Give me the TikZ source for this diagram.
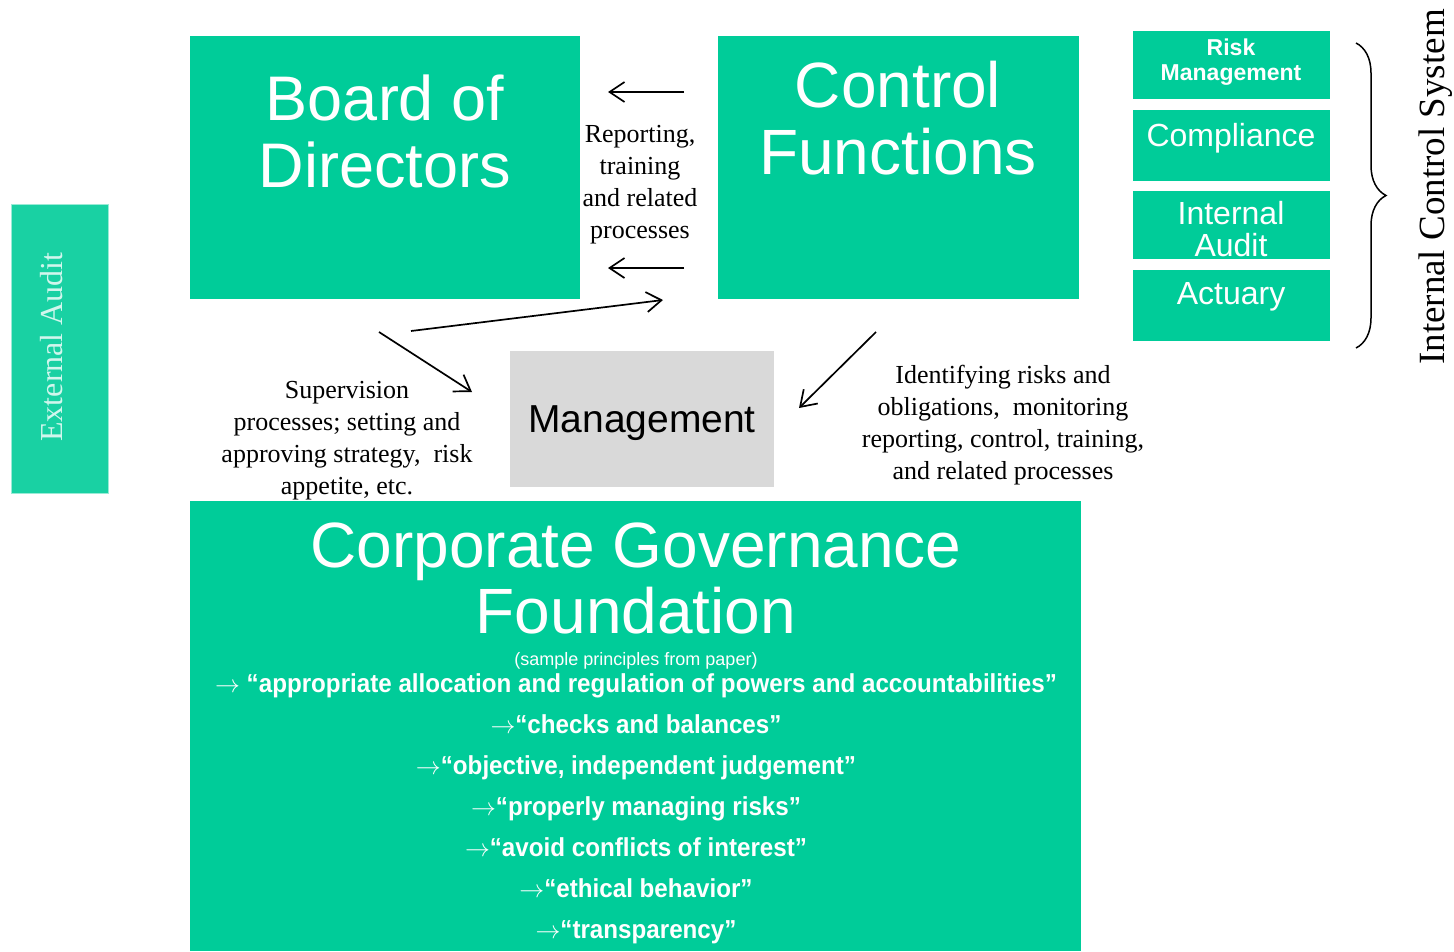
\documentclass[tikz,border=0pt]{standalone}
\usepackage{fontspec}
\setmainfont{Liberation Serif}
\newfontfamily\arialfont{Liberation Sans}
\newfontfamily\narrowfont[FakeStretch=0.93]{Liberation Sans}
\usetikzlibrary{positioning,arrows.meta,decorations.pathreplacing}
\definecolor{govgreen}{RGB}{0,204,153}
\definecolor{mgmtgray}{RGB}{217,217,217}
\newcommand{\princarrow}{$\rightarrow$}
\tikzset{
	greenbox/.style={fill=govgreen, draw=none, inner sep=0pt},
	boxtext/.style={text=white, align=center, inner sep=0pt, anchor=north},
	flowtext/.style={align=center, inner sep=0pt, anchor=north, font=\fontsize{26}{32}\selectfont},
	flowarrow/.style={-{Straight Barb[length=15pt,width=20pt]}, line width=1.7pt},
}
\begin{document}
\begin{tikzpicture}[x=1pt,y=-1pt]
		\useasboundingbox (0,0) rectangle (1454,951);

		% boxes
		\node [greenbox, minimum width=390pt, minimum height=263pt] (board) at (385,167.5) {};
		\node [greenbox, minimum width=361pt, minimum height=263pt] (control) at (898.5,167.5) {};
		\node [greenbox, minimum width=197pt, minimum height=68pt] (riskmgmt) at (1231.5,65) {};
		\node [greenbox, minimum width=197pt, minimum height=71pt] (compliance) at (1231.5,145.5) {};
		\node [greenbox, minimum width=197pt, minimum height=68pt] (intaudit) at (1231.5,225) {};
		\node [greenbox, minimum width=197pt, minimum height=71pt] (actuary) at (1231.5,305.5) {};
		\node [fill=mgmtgray, inner sep=0pt, minimum width=264pt, minimum height=136pt] (mgmt) at (642,419) {};
		\node [greenbox, minimum width=891pt, minimum height=450pt] (foundation) at (635.5,726) {};
		\node [fill=govgreen!90!white, draw=govgreen!40!white, line width=0.8pt, inner sep=0pt, minimum width=97pt, minimum height=289pt] (extaudit) at (59.5,348.5) {};

		% box texts
		\node [boxtext, font=\arialfont\fontsize{63}{67}\selectfont] (boardtxt) at (385,75) {Board of\\Directors};
		\node [boxtext, font=\arialfont\fontsize{64}{67}\selectfont] (controltxt) at (898,61) {Control\\Functions};
		\node [boxtext, font=\arialfont\bfseries\fontsize{23}{25}\selectfont] (riskmgmttxt) at (1231,39) {Risk\\Management};
		\node [boxtext, font=\arialfont\fontsize{32}{32}\selectfont] (compliancetxt) at (1231,123) {Compliance};
		\node [boxtext, font=\arialfont\fontsize{32}{32}\selectfont] (intaudittxt) at (1231,201) {Internal\\Audit};
		\node [boxtext, font=\arialfont\fontsize{32}{32}\selectfont] (actuarytxt) at (1231,282) {Actuary};
		\node [inner sep=0pt, anchor=base, font=\arialfont\fontsize{39}{39}\selectfont] (mgmttxt) at (642,432) {Management};
		\node [boxtext, font=\arialfont\fontsize{64}{66}\selectfont] (foundationtxt) at (636,523) {Corporate Governance\\Foundation};
		\node [inner sep=0pt, anchor=base, text=white, font=\arialfont\fontsize{18}{18}\selectfont] (sampletxt) at (636,665) {(sample principles from paper)};
		\node [boxtext, font=\narrowfont\bfseries\fontsize{26}{41}\selectfont] (principles) at (636,673) {\princarrow\ “appropriate allocation and regulation of powers and accountabilities”\\
			\princarrow“checks and balances”\\
			\princarrow“objective, independent judgement”\\
			\princarrow“properly managing risks”\\
			\princarrow“avoid conflicts of interest”\\
			\princarrow“ethical behavior”\\
			\princarrow“transparency”};
		\node [rotate=90, inner sep=0pt, anchor=base, text=white!82!govgreen, font=\fontsize{32}{32}\selectfont] (extaudittxt) at (62,347) {External Audit};
		\node [rotate=90, inner sep=0pt, anchor=base, font=\fontsize{37}{37}\selectfont] (icstxt) at (1444,187) {Internal Control System};

		% flow labels
		\node [flowtext] (reportingtxt) at (640,125) {Reporting,\\training\\and related\\processes};
		\node [flowtext] (supervisiontxt) at (347,381) {Supervision\\processes; setting and\\approving strategy,~ risk\\appetite, etc.};
		\node [flowtext] (identifytxt) at (1003,365) {Identifying risks and\\obligations,~ monitoring\\reporting, control, training,\\and related processes};

		% arrows
		\coordinate (reptopstart) at (684,92);
		\coordinate (reptopend) at (608,92);
		\coordinate (repbotstart) at (684,268);
		\coordinate (repbotend) at (608,268);
		\coordinate (boardout) at (411,331);
		\coordinate (boardin) at (663,300);
		\coordinate (supstart) at (379,332);
		\coordinate (supend) at (472,392);
		\coordinate (idstart) at (876,332);
		\coordinate (idend) at (799,408);
		\draw [flowarrow] (reptopstart) -- (reptopend);
		\draw [flowarrow] (repbotstart) -- (repbotend);
		\draw [flowarrow] (boardout) -- (boardin);
		\draw [flowarrow] (supstart) -- (supend);
		\draw [flowarrow] (idstart) -- (idend);

		% brace
		\coordinate (bracetop) at (1356,43);
		\coordinate (bracebot) at (1356,348);
		\draw [line width=1.5pt, decorate, decoration={brace, amplitude=30pt}] (bracetop) -- (bracebot);
\end{tikzpicture}
\end{document}
